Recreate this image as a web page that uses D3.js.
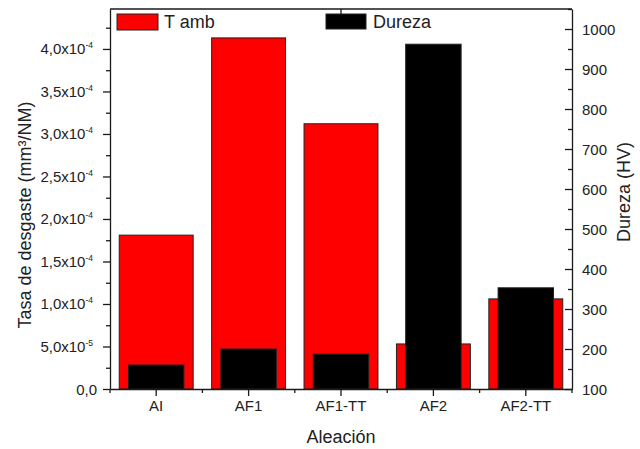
<!DOCTYPE html>
<html><head><meta charset="utf-8">
<script src="https://cdn.jsdelivr.net/npm/d3@7"></script>
<style>
body{margin:0;background:#fff;}
svg{display:block;font-family:Arial,"Liberation Sans",sans-serif;}
</style></head>
<body>
<svg id="c" width="640" height="449"></svg>
<script>
const categories = ["AI", "AF1", "AF1-TT", "AF2", "AF2-TT"];
const tasa = [1.81e-4, 4.13e-4, 3.12e-4, 0.53e-4, 1.06e-4];   // T amb (left axis)
const dureza = [160, 200, 187, 962, 353];                      // Dureza HV (right axis)
const leftTicks = [0, 0.5e-4, 1.0e-4, 1.5e-4, 2.0e-4, 2.5e-4, 3.0e-4, 3.5e-4, 4.0e-4];
const leftTickLabels = [["0,0",""],["5,0x10","-5"],["1,0x10","-4"],["1,5x10","-4"],["2,0x10","-4"],["2,5x10","-4"],["3,0x10","-4"],["3,5x10","-4"],["4,0x10","-4"]];
const rightTicks = [100,200,300,400,500,600,700,800,900,1000];
const seriesNames = ["T amb", "Dureza"];

const svg = d3.select("#c");
const L = 110, R = 572, T = 9, B = 389;
const ink = "#1a1a1a";

const x = d3.scaleBand().domain(categories).range([L, R]).padding(0);
const yL = d3.scaleLinear().domain([0, 4.47e-4]).range([B, T]);
const yR = d3.scaleLinear().domain([100, 1050]).range([B, T]);
const bw = x.bandwidth();

// red bars
svg.append("g").selectAll("rect").data(categories).join("rect")
  .attr("x", (d) => x(d) + bw * 0.1)
  .attr("width", bw * 0.8)
  .attr("y", (d, i) => yL(tasa[i]))
  .attr("height", (d, i) => B - yL(tasa[i]))
  .attr("fill", "#ff0000").attr("stroke", "#222").attr("stroke-width", 1);

// black bars
svg.append("g").selectAll("rect").data(categories).join("rect")
  .attr("x", (d) => x(d) + bw * 0.2)
  .attr("width", bw * 0.6)
  .attr("y", (d, i) => yR(dureza[i]))
  .attr("height", (d, i) => B - yR(dureza[i]))
  .attr("fill", "#000").attr("stroke", "#222").attr("stroke-width", 1);

function styleAxis(g){
  g.selectAll("path,line").attr("stroke", ink).attr("stroke-width", 1.3);
  g.selectAll("text").remove();
}

// left axis major/minor
const leftMinor = leftTicks.map(v => v + 0.25e-4);
svg.append("g").attr("transform", `translate(${L},0)`)
  .call(d3.axisLeft(yL).tickValues(leftTicks).tickSize(7).tickSizeOuter(0).tickFormat(""))
  .call(styleAxis);
svg.append("g").attr("transform", `translate(${L},0)`)
  .call(d3.axisLeft(yL).tickValues(leftMinor).tickSize(4).tickSizeOuter(0).tickFormat(""))
  .call(g => { styleAxis(g); g.select(".domain").remove(); });

const lt = svg.append("g").attr("font-size", 15).attr("fill", "#222").attr("text-anchor", "end");
leftTicks.forEach((v, i) => {
  const t = lt.append("text").attr("x", 93).attr("y", yL(v) + 5.5);
  t.append("tspan").text(leftTickLabels[i][0]);
  if (leftTickLabels[i][1]) t.append("tspan").attr("dy", -6).attr("font-size", 8.5).text(leftTickLabels[i][1]);
  if (!leftTickLabels[i][1]) t.attr("x", 97);
});

// right axis (ticks point inward)
const rightMinor = rightTicks.map(v => v + 50);
svg.append("g").attr("transform", `translate(${R},0)`)
  .call(d3.axisLeft(yR).tickValues(rightTicks).tickSize(7).tickSizeOuter(0).tickFormat(""))
  .call(styleAxis);
svg.append("g").attr("transform", `translate(${R},0)`)
  .call(d3.axisLeft(yR).tickValues(rightMinor).tickSize(4).tickSizeOuter(0).tickFormat(""))
  .call(g => { styleAxis(g); g.select(".domain").remove(); });
svg.append("g").attr("font-size", 15).attr("fill", "#222").selectAll("text").data(rightTicks).join("text")
  .attr("x", 582).attr("y", d => yR(d) + 5.5).text(d => d);

// bottom axis
svg.append("g").attr("transform", `translate(0,${B})`)
  .call(d3.axisBottom(x).tickSize(7).tickSizeOuter(0))
  .call(g => { g.selectAll("path,line").attr("stroke", ink).attr("stroke-width", 1.3);
               g.selectAll("text").attr("font-size", 15).attr("fill", "#222").attr("y", 11).attr("dy", "0.71em").attr("font-family", null); });
const edges = categories.map(c => x(c)).concat([R]);
svg.append("g").selectAll("line").data(edges).join("line")
  .attr("x1", d => d).attr("x2", d => d).attr("y1", B).attr("y2", B + 4)
  .attr("stroke", ink).attr("stroke-width", 1.3);

// top frame line + single tick
svg.append("line").attr("x1", L).attr("x2", R).attr("y1", T).attr("y2", T).attr("stroke", ink).attr("stroke-width", 1.3);
svg.append("line").attr("x1", x("AF1-TT") + bw / 2).attr("x2", x("AF1-TT") + bw / 2).attr("y1", T).attr("y2", T + 5)
  .attr("stroke", ink).attr("stroke-width", 1.3);

// titles
svg.append("text").attr("x", (L + R) / 2).attr("y", 443).attr("text-anchor", "middle")
  .attr("font-size", 18).attr("fill", "#222").text("Aleación");
svg.append("text").attr("transform", "translate(31,215) rotate(-90)").attr("text-anchor", "middle")
  .attr("font-size", 18).attr("fill", "#222").text("Tasa de desgaste (mm³/NM)");
svg.append("text").attr("transform", "translate(630,192) rotate(-90)").attr("text-anchor", "middle")
  .attr("font-size", 18).attr("fill", "#222").text("Dureza (HV)");

// legend
const leg = svg.append("g");
leg.append("rect").attr("x", 117).attr("y", 14).attr("width", 41).attr("height", 16)
  .attr("fill", "#ff0000").attr("stroke", "#222").attr("stroke-width", 1);
leg.append("text").attr("x", 164).attr("y", 28).attr("font-size", 18).attr("fill", "#222").text(seriesNames[0]);
leg.append("rect").attr("x", 326).attr("y", 14).attr("width", 40).attr("height", 15)
  .attr("fill", "#000").attr("stroke", "#222").attr("stroke-width", 1);
leg.append("text").attr("x", 373).attr("y", 28).attr("font-size", 18).attr("fill", "#222").text(seriesNames[1]);
</script>
</body></html>
